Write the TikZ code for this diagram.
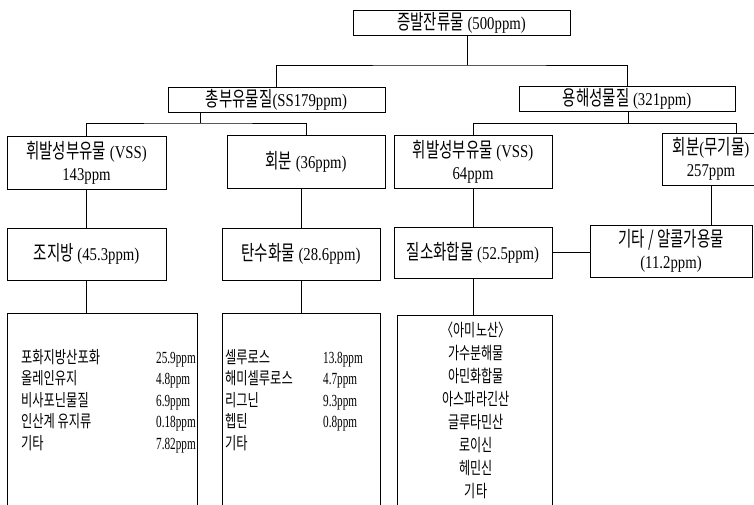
\documentclass[tikz,border=0pt]{standalone}
\usepackage{fontspec}
\setmainfont{Liberation Serif}[FakeStretch=0.82]
\newfontfamily\lnarrow{Liberation Serif}[FakeStretch=0.66]
\newfontfamily\kr{Noto Sans CJK KR}[Scale=1.15,FakeStretch=0.7]
\newfontfamily\krl{Noto Sans CJK KR}[FakeStretch=0.72]
\newcommand\K[1]{{\kr #1}}
\newcommand\KL[1]{{\krl #1}}
\newcommand\hdrfont{\fontsize{18}{22}\selectfont}
\newcommand\lstfont{\fontsize{17}{21.5}\selectfont\lnarrow}
\newcommand\amfont{\fontsize{15}{23}\selectfont}
\begin{document}
\begin{tikzpicture}[x=1pt,y=-1pt,
  box/.style={draw,line width=0.9pt,inner sep=0pt,align=center,font=\hdrfont},
  listbox/.style={draw,line width=0.9pt,inner sep=0pt},
  conn/.style={line width=0.9pt}]
\useasboundingbox (0,0) rectangle (754,504);
\clip (0,0) rectangle (754,504);
\fill[white] (0,0) rectangle (754,504);

\node[box, minimum width=217pt, minimum height=25pt] (top) at (461.5,22.5) {\K{증발잔류물} (500ppm)};
\node[box, minimum width=217pt, minimum height=25pt] (ss) at (276.5,99.5) {\K{총부유물질}(SS179ppm)};
\node[box, minimum width=216pt, minimum height=25pt] (ds) at (627,98.5) {\K{용해성물질} (321ppm)};

\node[box, minimum width=159pt, minimum height=53pt] (vss1) at (86.5,162.5) {\K{휘발성부유물} (VSS)\\143ppm};
\node[box, minimum width=158pt, minimum height=53pt] (ash1) at (306,161.5) {\K{회분} (36ppm)};
\node[box, minimum width=158pt, minimum height=53pt] (vss2) at (473,161.5) {\K{휘발성부유물} (VSS)\\64ppm};
\node[box, minimum width=98pt, minimum height=52pt] (ash2) at (711,159) {\K{회분}(\K{무기물})\\257ppm};

\node[box, minimum width=159pt, minimum height=52pt] (fat) at (86.5,254) {\K{조지방} (45.3ppm)};
\node[box, minimum width=158pt, minimum height=52pt] (carb) at (301,254) {\K{탄수화물} (28.6ppm)};
\node[box, minimum width=158pt, minimum height=51pt] (nit) at (473,252.5) {\K{질소화합물} (52.5ppm)};
\node[box, minimum width=162pt, minimum height=52pt] (etc) at (671,251) {\K{기타 / 알콜가용물}\\(11.2ppm)};

\node[listbox, minimum width=190pt, minimum height=217pt] (list1) at (102,421.5) {};
\node[listbox, minimum width=158pt, minimum height=217pt] (list2) at (301,421.5) {};
\node[listbox, minimum width=155pt, minimum height=215pt] (list3) at (474.5,422.5) {};

\node[anchor=base west, inner sep=0pt, font=\lstfont] (t1) at (21,363) {%
\begin{tabular}[t]{@{}l@{}l@{}}
\makebox[135pt][l]{\KL{포화지방산포화}} & 25.9ppm\\
\makebox[135pt][l]{\KL{올레인유지}} & 4.8ppm\\
\makebox[135pt][l]{\KL{비사포닌물질}} & 6.9ppm\\
\makebox[135pt][l]{\KL{인산계 유지류}} & 0.18ppm\\
\makebox[135pt][l]{\KL{기타}} & 7.82ppm
\end{tabular}};

\node[anchor=base west, inner sep=0pt, font=\lstfont] (t2) at (225,363) {%
\begin{tabular}[t]{@{}l@{}l@{}}
\makebox[98pt][l]{\KL{셀루로스}} & 13.8ppm\\
\makebox[98pt][l]{\KL{해미셀루로스}} & 4.7ppm\\
\makebox[98pt][l]{\KL{리그닌}} & 9.3ppm\\
\makebox[98pt][l]{\KL{헵틴}} & 0.8ppm\\
\makebox[98pt][l]{\KL{기타}} &
\end{tabular}};

\node[anchor=base, inner sep=0pt, font=\amfont] (t3) at (476,336) {%
\begin{tabular}[t]{@{}c@{}}
\K{〈아미노산〉}\\
\K{가수분해물}\\
\K{아민화합물}\\
\K{아스파라긴산}\\
\K{글루타민산}\\
\K{로이신}\\
\K{헤민신}\\
\K{기타}
\end{tabular}};

\coordinate (b0) at (467,65);
\coordinate (b1) at (200,123);
\coordinate (b2) at (628,123);
\coordinate (c2) at (736,123);

\draw[conn] (top.south -| b0) -- (b0);
\draw[conn] (ss.north) |- (b0) -| (ds.north);
\draw[conn] (ss.south -| b1) -- (b1);
\draw[conn] (vss1.north) |- (b1) -| (ash1.north);
\draw[conn] (ds.south -| b2) -- (b2);
\draw[conn] (vss2.north) |- (c2) -- (c2 |- ash2.north);
\draw[conn] (vss1) -- (fat);
\draw[conn] (carb.north) -- (carb.north |- ash1.south);
\draw[conn] (vss2) -- (nit);
\draw[conn] (ash2.south) -- (ash2.south |- etc.north);
\draw[conn] (nit.east) -- (nit.east -| etc.west);
\draw[conn] (fat.south) -- (fat.south |- list1.north);
\draw[conn] (carb) -- (list2);
\draw[conn] (nit.south) -- (nit.south |- list3.north);
\end{tikzpicture}
\end{document}
